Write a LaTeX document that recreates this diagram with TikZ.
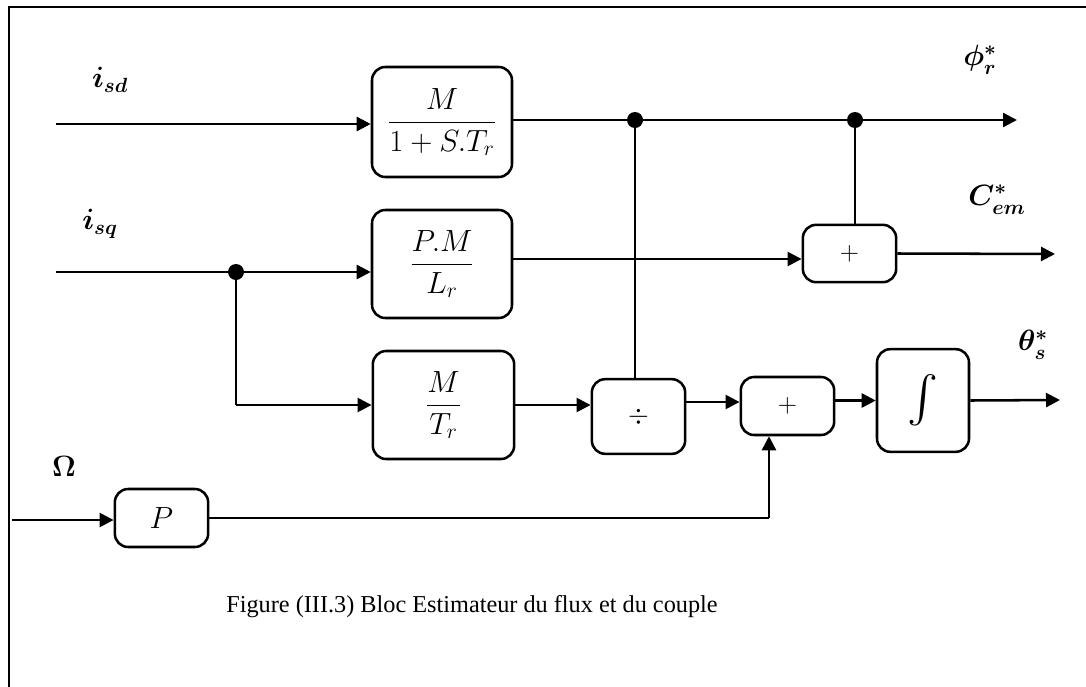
\RequirePackage{fix-cm}
\documentclass[tikz,border=0pt]{standalone}
\usepackage{amsmath}
\usepackage{fontspec}
\setmainfont{Liberation Serif}
\usetikzlibrary{arrows.meta}

\tikzset{
  blk/.style={draw, line width=1.9pt, rounded corners=10pt, inner sep=0pt,
              font=\fontsize{23}{26}\selectfont},
  smallblk/.style={blk, font=\fontsize{20}{24}\selectfont},
  wire/.style={line width=1.9pt},
  thinwire/.style={line width=1.1pt},
  arr/.style={wire, -{Triangle[length=10.5pt, width=10.5pt]}},
  dot/.style={circle, fill, inner sep=0pt, minimum size=12pt},
  sig/.style={font=\fontsize{22}{26}\selectfont}
}

\begin{document}
\begin{tikzpicture}[x=0.75pt, y=-0.75pt]
\useasboundingbox (0,0) rectangle (1086,686);

% frame
\draw[line width=2.2pt] (9,690) -- (9,7) -- (1090,7);

% transfer blocks
\node[blk, minimum width=105pt, minimum height=82.5pt] (b1) at (442,122) {$\dfrac{M}{1+S.T_r}$};
\node[blk, minimum width=105pt, minimum height=81pt] (b2) at (442,264) {$\dfrac{P.M}{L_r}$};
\node[blk, minimum width=106pt, minimum height=81pt] (b3) at (443.5,405) {$\dfrac{M}{T_r}$};
\node[smallblk, minimum width=70pt, minimum height=43pt] (s1) at (849.5,253.5) {$+$};
\node[smallblk, minimum width=70pt, minimum height=56pt] (dv) at (638.5,416.5) {\raisebox{-7pt}{$\div$}};
\node[smallblk, minimum width=70pt, minimum height=43.5pt] (s2) at (787.5,406) {\raisebox{-4pt}{$+$}};
\node[blk, minimum width=69pt, minimum height=77pt, font=\fontsize{30}{34}\selectfont] (ig) at (923,400.5) {\scalebox{1.4}{$\int$}};
\node[blk, minimum width=70pt, minimum height=43.5pt] (pb) at (161.5,518) {$P$};

% signal labels
\node[sig] (lisd) at (110,80) {$\boldsymbol{i_{sd}}$};
\node[sig] (lisq) at (100,224) {$\boldsymbol{i_{sq}}$};
\node[sig] (lom) at (64,466) {$\boldsymbol{\Omega}$};
\node[sig] (lphi) at (980,60) {$\boldsymbol{\phi^{*}_{r}}$};
\node[sig] (lcem) at (997,200) {$\boldsymbol{C^{*}_{em}}$};
\node[sig] (lth) at (1033,345) {$\boldsymbol{\theta^{*}_{s}}$};

% branch points and free ends
\coordinate (in1) at (56,124);
\coordinate (in2) at (56,272);
\coordinate (in3) at (12,520);
\coordinate (br) at (236,272);
\coordinate (d1) at (635,120);
\coordinate (d2) at (855,120);
\coordinate (o1) at (1017,120);
\coordinate (o2) at (1055,254);
\coordinate (o3) at (1060,400);
\coordinate (k) at (769,518);

% flux path
\draw[arr] (in1) -- (in1 -| b1.west);
\draw[arr] (d1 -| b1.east) -- (o1);
\draw[wire] (d1) -- (d1 |- dv.north);
\draw[wire] (d2) -- (d2 |- s1.north);

% torque path
\draw[wire] (in2) -- (br);
\draw[arr] (br) -- (br -| b2.west);
\draw[arr] (b2.east |- 0,259) -- (s1.west |- 0,259);
\draw[arr] (s1.east) -- (o2);

% angle path
\draw[wire] (br) -- (br |- b3.west);
\draw[arr] (br |- b3.west) -- (b3.west);
\draw[arr] (b3.east) -- (b3.east -| dv.west);
\draw[arr] (dv.east |- 0,402) -- (s2.west |- 0,402);
\draw[arr] (s2.east |- ig.west) -- (ig.west);
\draw[arr] (ig.east) -- (o3);

% speed path
\draw[arr] (in3) -- (in3 -| pb.west);
\draw[thinwire] (pb.east) -- (k);
\draw[arr] (k) -- (k |- s2.south);

% junction dots
\node[dot] (j1) at (d1) {};
\node[dot] (j2) at (d2) {};
\node[dot] (j3) at (br) {};

% caption
\node[font=\fontsize{18.2}{21}\selectfont] (cap) at (472,607) {Figure (III.3) Bloc Estimateur du flux et du couple};
\end{tikzpicture}
\end{document}
